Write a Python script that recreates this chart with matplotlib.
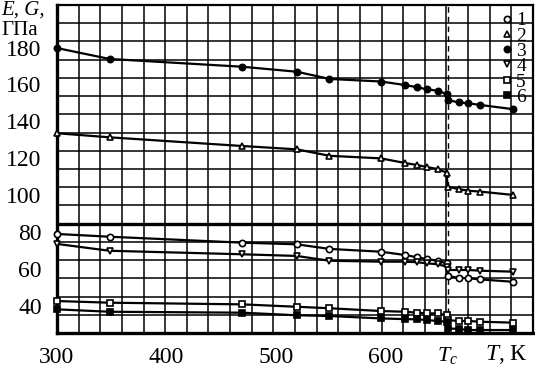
import numpy as np
import matplotlib.pyplot as plt
from matplotlib.ticker import FixedLocator

plt.rcParams['font.family'] = 'Liberation Serif'
plt.rcParams['mathtext.fontset'] = 'custom'
plt.rcParams['mathtext.rm'] = 'Liberation Serif'
plt.rcParams['mathtext.it'] = 'Liberation Serif:italic'

# --- data ---
T = [300, 348, 469, 519, 549, 596, 618, 629, 638, 648, 656,
     657, 667, 676, 687, 717]
Tc = 657

s1 = [79.1, 77.6, 74.4, 73.5, 71.0, 69.5, 67.7, 66.5, 65.5, 64.6, 63.2,
      56.3, 55.4, 55.1, 54.5, 53.2]
s2 = [133.6, 131.4, 126.7, 124.9, 121.4, 120.0, 117.5, 116.4, 115.3, 114.2, 112.3,
      104.7, 103.4, 102.5, 102.0, 100.2]
s3 = [179.7, 173.8, 169.6, 166.9, 163.0, 161.6, 159.7, 158.5, 157.4, 156.6, 154.8,
      151.6, 150.3, 149.8, 148.9, 146.6]
s4 = [73.7, 70.0, 68.1, 67.2, 64.6, 64.1, 64.1, 63.8, 63.2, 62.7, 61.4,
      59.6, 59.6, 59.6, 59.2, 58.7]
s5 = [42.8, 41.9, 41.0, 39.7, 38.9, 37.4, 37.0, 36.5, 36.1, 36.1, 35.2,
      32.5, 32.0, 32.0, 31.6, 31.1]
s6 = [38.3, 37.0, 36.5, 35.1, 34.7, 33.4, 33.0, 32.9, 32.5, 32.0, 31.6,
      28.0, 27.7, 27.1, 27.1, 27.1]

series = [s1, s2, s3, s4, s5, s6]
names = ['1', '2', '3', '4', '5', '6']
markers = ['o', '^', 'o', 'v', 's', 's']
filled = [False, False, True, False, False, True]

xticks = [300, 400, 500, 600]
yticks = [40, 60, 80, 100, 120, 140, 160, 180]

TICK_FONT = 17
W, H = 535, 367

fig = plt.figure(figsize=(W / 100, H / 100), dpi=100)
ax = fig.add_axes([57 / W, 34 / H, 476 / W, 328 / H])
ax.set_xlim(300, 735)
ax.set_ylim(25.5, 203)

# graph paper grid
xg = np.linspace(300, 735, 23)
yg = np.linspace(25.5, 203, 19)
ax.xaxis.set_minor_locator(FixedLocator(xg))
ax.yaxis.set_minor_locator(FixedLocator(yg))
ax.grid(which='minor', color='black', lw=1.1)
ax.grid(which='major', visible=False)
ax.axhline(yg[6], color='black', lw=2.4)
ax.set_axisbelow(True)

ax.set_xticks(xticks)
ax.set_yticks(yticks)
ax.tick_params(which='both', length=0, labelsize=TICK_FONT)
ax.tick_params(axis='x', pad=10)
ax.tick_params(axis='y', pad=11)

for side, lw in [('left', 2.4), ('bottom', 2.4), ('top', 1.6), ('right', 1.6)]:
    ax.spines[side].set_linewidth(lw)

ax.axvline(Tc, color='black', lw=1.0, ls=(0, (4, 3)))

handles = []
for s, m, f in zip(series, markers, filled):
    ln, = ax.plot(T, s, color='black', lw=1.6, marker=m, markersize=4.5,
                  markeredgewidth=1.2, markerfacecolor='black' if f else 'white',
                  markeredgecolor='black', clip_on=False, zorder=3)
    handles.append(ln)

leg = ax.legend(handles, names, loc='upper right', bbox_to_anchor=(1.0, 1.0),
                frameon=False, handlelength=0, handletextpad=0.5,
                labelspacing=-0.12, fontsize=14, borderpad=0.15,
                borderaxespad=0.2, numpoints=1)
leg.set_zorder(5)

ax.text(Tc, -22 / 328, r'$T_c$', transform=ax.get_xaxis_transform(),
        ha='center', va='center', fontsize=16)
fig.text(506 / W, 1 - 355 / H, r'$T$, К', ha='center', va='center', fontsize=17)
fig.text(1 / W, 1 - 1 / H, 'E, G,', ha='left', va='top', fontsize=15, style='italic')
fig.text(1 / W, 1 - 21 / H, 'ГПа', ha='left', va='top', fontsize=15)

fig.savefig('out.png', dpi=100)
